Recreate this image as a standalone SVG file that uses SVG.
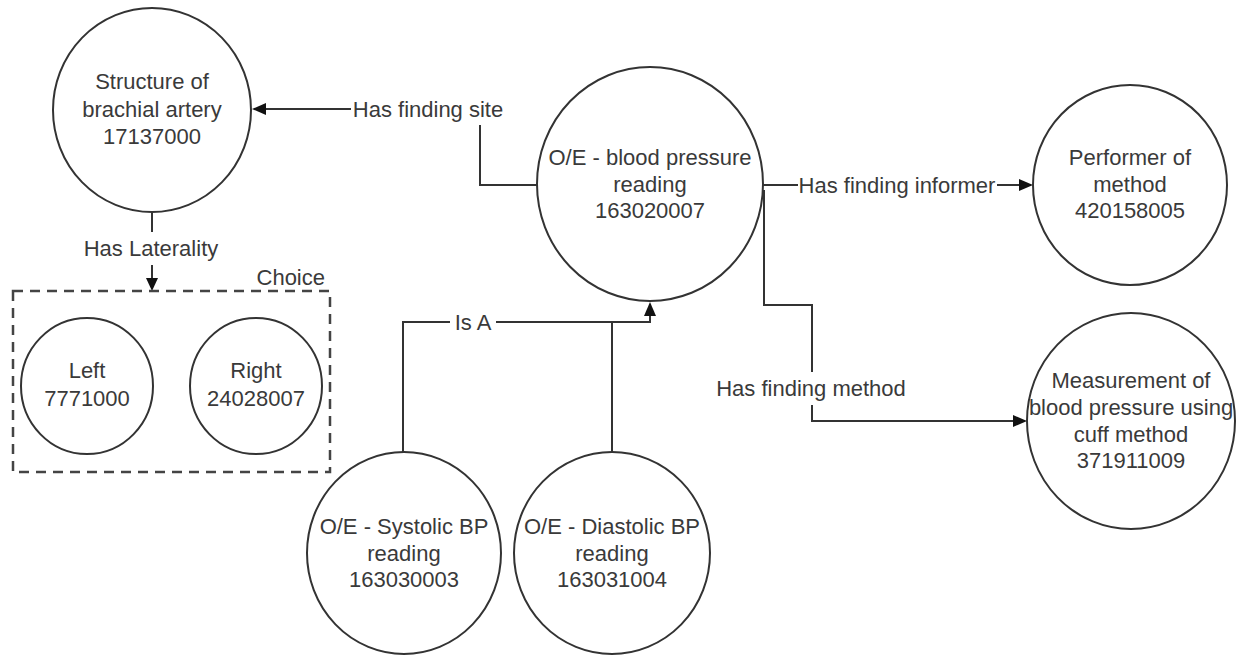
<svg xmlns="http://www.w3.org/2000/svg" width="1243" height="665" viewBox="0 0 1243 665">
<style>
  .node { fill: #ffffff; stroke: #333333; stroke-width: 2; }
  .lbl { font-family: "Liberation Sans", Arial, sans-serif; font-size: 22px; fill: #3a3a3a; text-anchor: middle; }
  .conn { fill: none; stroke: #333333; stroke-width: 2; }
  .head { fill: #111111; stroke: none; }
  .box { fill: none; stroke: #444444; stroke-width: 2.5; stroke-dasharray: 10 7; }
</style>
<rect width="1243" height="665" fill="#ffffff"/>

<g id="connectors">
  <!-- Has finding site -->
  <path class="conn" d="M537,185 H480 V125"/>
  <path class="conn" d="M351,109 H264"/>
  <polygon class="head" points="252,109 266,103 266,115"/>
  <text class="lbl" x="428" y="117">Has finding site</text>
  <!-- Has Laterality -->
  <path class="conn" d="M152,212 V232"/>
  <path class="conn" d="M152,265 V280"/>
  <polygon class="head" points="152,291 146,278 158,278"/>
  <text class="lbl" x="151" y="256">Has Laterality</text>
  <!-- Has finding informer -->
  <path class="conn" d="M763,185 H798"/>
  <path class="conn" d="M997,185 H1021"/>
  <polygon class="head" points="1033,185 1019,179 1019,191"/>
  <text class="lbl" x="897" y="193">Has finding informer</text>
  <!-- Has finding method -->
  <path class="conn" d="M764,190 V305 H812 V372"/>
  <path class="conn" d="M812,405 V421 H1015"/>
  <polygon class="head" points="1027,421 1013,415 1013,427"/>
  <text class="lbl" x="811" y="396">Has finding method</text>
  <!-- Is A -->
  <path class="conn" d="M403,452 V322 H450"/>
  <path class="conn" d="M496,322 H650 V314"/>
  <path class="conn" d="M612,452 V322"/>
  <polygon class="head" points="650,302 644,316 656,316"/>
  <text class="lbl" x="473" y="330">Is A</text>
</g>

<g id="structure">
  <ellipse class="node" cx="152" cy="110" rx="99" ry="102"/>
  <text class="lbl" x="152" y="89">Structure of</text>
  <text class="lbl" x="152" y="117">brachial artery</text>
  <text class="lbl" x="152" y="144">17137000</text>
</g>

<g id="choice">
  <rect class="box" x="13" y="291" width="317" height="181"/>
  <text class="lbl" x="325" y="285" style="text-anchor:end">Choice</text>
</g>

<g id="left">
  <ellipse class="node" cx="87" cy="386" rx="66" ry="68"/>
  <text class="lbl" x="87" y="378">Left</text>
  <text class="lbl" x="87" y="406">7771000</text>
</g>

<g id="right">
  <ellipse class="node" cx="256" cy="386" rx="66" ry="68"/>
  <text class="lbl" x="256" y="378">Right</text>
  <text class="lbl" x="256" y="406">24028007</text>
</g>

<g id="bp-reading">
  <ellipse class="node" cx="650" cy="184" rx="113" ry="117"/>
  <text class="lbl" x="650" y="165">O/E - blood pressure</text>
  <text class="lbl" x="650" y="192">reading</text>
  <text class="lbl" x="650" y="218">163020007</text>
</g>

<g id="performer">
  <ellipse class="node" cx="1130" cy="185" rx="97" ry="100"/>
  <text class="lbl" x="1130" y="165">Performer of</text>
  <text class="lbl" x="1130" y="192">method</text>
  <text class="lbl" x="1130" y="218">420158005</text>
</g>

<g id="measurement">
  <ellipse class="node" cx="1131" cy="421" rx="104" ry="108"/>
  <text class="lbl" x="1131" y="388">Measurement of</text>
  <text class="lbl" x="1131" y="415">blood pressure using</text>
  <text class="lbl" x="1131" y="442">cuff method</text>
  <text class="lbl" x="1131" y="468">371911009</text>
</g>

<g id="systolic">
  <ellipse class="node" cx="404" cy="553" rx="97" ry="101"/>
  <text class="lbl" x="404" y="534">O/E - Systolic BP</text>
  <text class="lbl" x="404" y="561">reading</text>
  <text class="lbl" x="404" y="587">163030003</text>
</g>

<g id="diastolic">
  <ellipse class="node" cx="612" cy="553" rx="98" ry="101"/>
  <text class="lbl" x="612" y="534">O/E - Diastolic BP</text>
  <text class="lbl" x="612" y="561">reading</text>
  <text class="lbl" x="612" y="587">163031004</text>
</g>
</svg>
